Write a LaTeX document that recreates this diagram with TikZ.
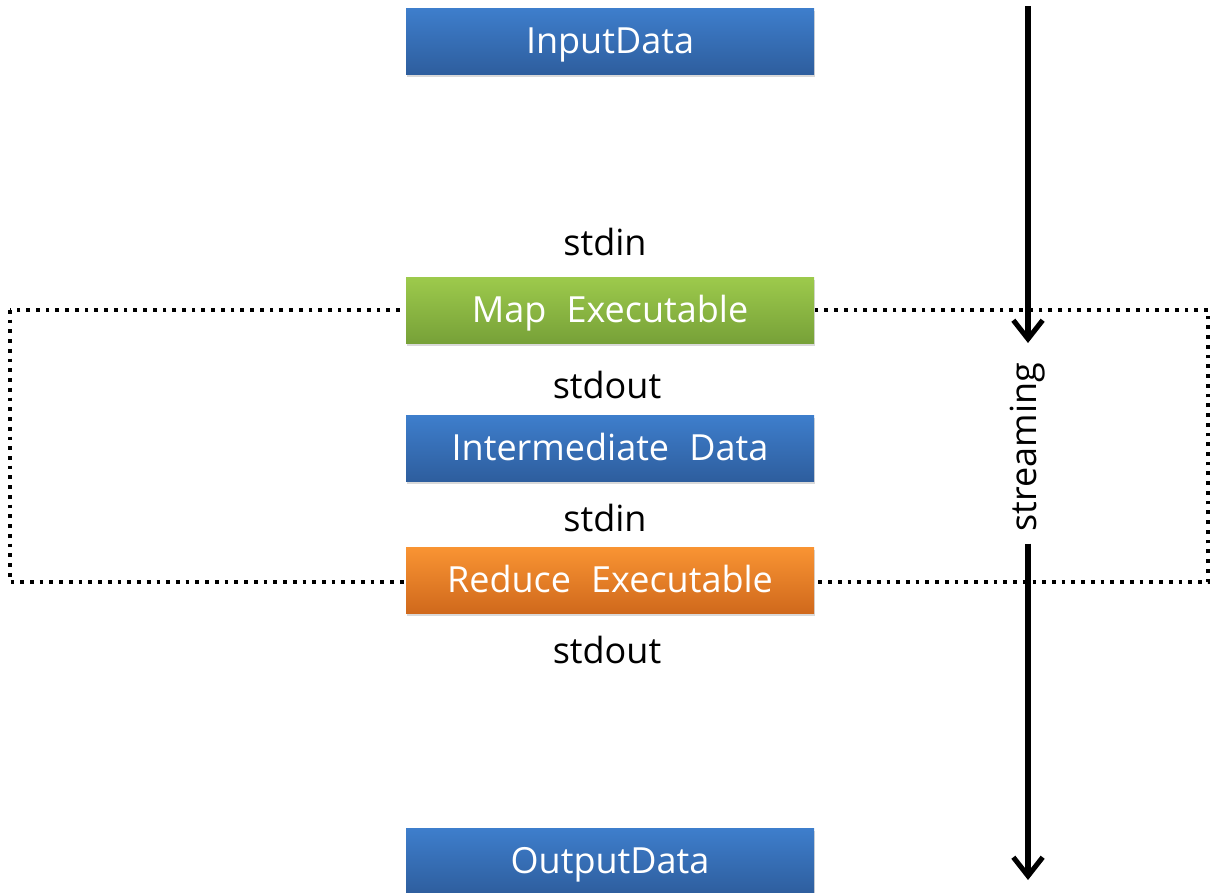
\documentclass[tikz,border=0pt]{standalone}
\usepackage{fontspec}
\setmainfont{Open Sans}
\usetikzlibrary{arrows.meta,shadows}
\begin{document}
\begin{tikzpicture}[x=0.75pt,y=-0.75pt,
  box/.style={minimum width=306pt,minimum height=49.5pt,inner sep=0pt,
    text=white,font=\fontsize{27}{30}\selectfont,text height=19.3pt,text depth=0pt,
    drop shadow={shadow xshift=1pt,shadow yshift=-2.5pt,opacity=0.3}},
  bluebox/.style={box,top color=blueT,bottom color=blueB},
  greenbox/.style={box,top color=greenT,bottom color=greenB},
  orangebox/.style={box,top color=orangeT,bottom color=orangeB},
  lab/.style={font=\fontsize{27}{30}\selectfont,text=black,inner sep=0pt},
  flow/.style={line width=3.8pt,-{Straight Barb[length=14pt,width=22pt,line width=3.8pt]}},
  dotbox/.style={line width=2.8pt,dash pattern=on 2.8pt off 4.5pt}]
\definecolor{blueT}{HTML}{3E7ECC}
\definecolor{blueB}{HTML}{2E5E9E}
\definecolor{greenT}{HTML}{9DCA4C}
\definecolor{greenB}{HTML}{77A138}
\definecolor{orangeT}{HTML}{F99433}
\definecolor{orangeB}{HTML}{D0691C}
\useasboundingbox (0,0) rectangle (1211,893);
% dotted enclosure
\draw[dotbox] (10,310) rectangle (1208,582);
% boxes
\node[bluebox] (in) at (610,41) {InputData};
\node[greenbox] (map) at (610,310) {Map\hspace{0.3em} Executable};
\node[bluebox] (mid) at (610,448) {Intermediate\hspace{0.3em} Data};
\node[orangebox] (red) at (610,580) {Reduce\hspace{0.3em} Executable};
\node[bluebox] (out) at (610,861) {OutputData};
% labels
\node[lab] (l1) at (605,242) {stdin};
\node[lab] (l2) at (607,385) {stdout};
\node[lab] (l3) at (605,518) {stdin};
\node[lab] (l4) at (607,650) {stdout};
% streaming arrow
\node[lab,rotate=90,fill=white,inner xsep=9pt,inner ysep=2pt] (st) at (1028,447) {streaming};
\coordinate (a0) at (1028,6);
\coordinate (a1) at (1028,343);
\coordinate (b1) at (1028,880);
\draw[flow] (a0) -- (a1);
\draw[flow] (st.west) -- (b1);
\end{tikzpicture}
\end{document}
